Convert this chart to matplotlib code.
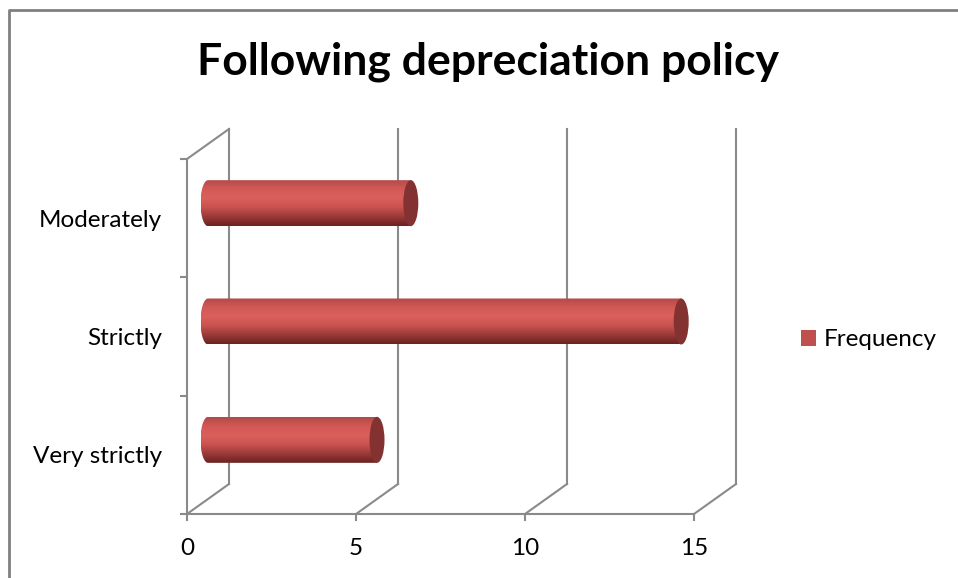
import matplotlib.pyplot as plt
import numpy as np
from matplotlib.patches import Ellipse, PathPatch, Patch
from matplotlib.path import Path
from matplotlib.colors import LinearSegmentedColormap

categories = ["Very strictly", "Strictly", "Moderately"]
frequency = [5, 14, 6]
xticks = [0, 5, 10, 15]
title = "Following depreciation policy"

plt.rcParams['font.family'] = ['Lato', 'DejaVu Sans']

W, H = 958, 578
fig = plt.figure(figsize=(W / 100, H / 100), dpi=100)

# axes frame: front plane origin and back-wall top corner, in pixels
px_left, px_right, px_bottom, px_top = 187, 735, 514, 127
ax = fig.add_axes([px_left / W, 1 - px_bottom / H,
                   (px_right - px_left) / W, (px_bottom - px_top) / H])

xmax = 15
x_per_px = xmax / (694 - 187)
y_per_px = 3 / (514 - 159)
dx = 42 * x_per_px          # depth offset along x
dy = 30 * y_per_px          # depth offset along y

grid_c = "#8a8a8a"
lw = 1.5
y0, y1 = -0.5, len(categories) - 0.5

# back wall gridlines and floor diagonals
for v in xticks:
    ax.plot([v, v + dx], [y0, y0 + dy], color=grid_c, lw=lw, clip_on=False)
    ax.plot([v + dx, v + dx], [y0 + dy, y1 + dy], color=grid_c, lw=lw, clip_on=False)
# left wall top diagonal
ax.plot([0, dx], [y1, y1 + dy], color=grid_c, lw=lw, clip_on=False)

# cylinders
cmap = LinearSegmentedColormap.from_list(
    "cyl", ["#6a2220", "#9a3a38", "#c9524f", "#db605c", "#d15955", "#b4484a"])
grad = np.linspace(0, 1, 256).reshape(-1, 1)
half_h = 23 * y_per_px
ew = 7.5 * x_per_px
t = np.linspace(np.pi / 2, 3 * np.pi / 2, 40)
for i, v in enumerate(frequency):
    cy = i + dy / 2
    xa, xb = dx / 2, v + dx / 2
    arc = np.column_stack([xa + ew * np.cos(t), cy + half_h * np.sin(t)])
    verts = np.vstack([[xb, cy + half_h], arc, [xb, cy - half_h], [xb, cy + half_h]])
    body = PathPatch(Path(verts), facecolor="none", edgecolor="none")
    ax.add_patch(body)
    im = ax.imshow(grad, cmap=cmap, aspect="auto", origin="lower",
                   extent=(xa - ew, xb, cy - half_h, cy + half_h), zorder=3)
    im.set_clip_path(body)
    cap = Ellipse((xb, cy), 2 * ew, 2 * half_h, facecolor="#833231",
                  edgecolor="none", zorder=4)
    ax.add_patch(cap)

ax.set_xlim(0, (px_right - px_left) * x_per_px)
ax.set_ylim(-0.5, -0.5 + (px_bottom - px_top) * y_per_px)

# axes lines on the front plane
for s in ["top", "right"]:
    ax.spines[s].set_visible(False)
ax.spines["left"].set_bounds(y0, y1)
ax.spines["bottom"].set_bounds(0, xmax)
for s in ["left", "bottom"]:
    ax.spines[s].set_color(grid_c)
    ax.spines[s].set_linewidth(lw)

fs = 17.5
ax.set_xticks(xticks)
ax.set_xticklabels([str(v) for v in xticks], fontsize=fs)
ax.set_yticks(np.arange(len(categories) + 1) - 0.5)
ax.set_yticklabels([])
ax.set_yticks(np.arange(len(categories)), minor=True)
ax.set_yticklabels(categories, minor=True, fontsize=fs)
ax.tick_params(axis="both", which="major", color=grid_c, width=lw, length=5)
ax.tick_params(axis="x", pad=12)
ax.tick_params(axis="y", which="minor", length=0, pad=18)

fig.text(488 / W, 1 - 62 / H, title, fontsize=32, fontweight="bold",
         ha="center", va="center")

fig.legend(handles=[Patch(facecolor="#c0504d", label="Frequency")],
           loc="center left", bbox_to_anchor=(801 / W, 1 - 340 / H),
           frameon=False, fontsize=fs, handlelength=0.62, handleheight=0.62,
           handletextpad=0.3, borderpad=0, borderaxespad=0)

# chart border (top and left edges)
fig.add_artist(plt.Line2D([9 / W, 9 / W, 1], [0, 1 - 10 / H, 1 - 10 / H],
                          transform=fig.transFigure, color="#808080", lw=2))

fig.savefig("out.png", dpi=100, facecolor="white")
